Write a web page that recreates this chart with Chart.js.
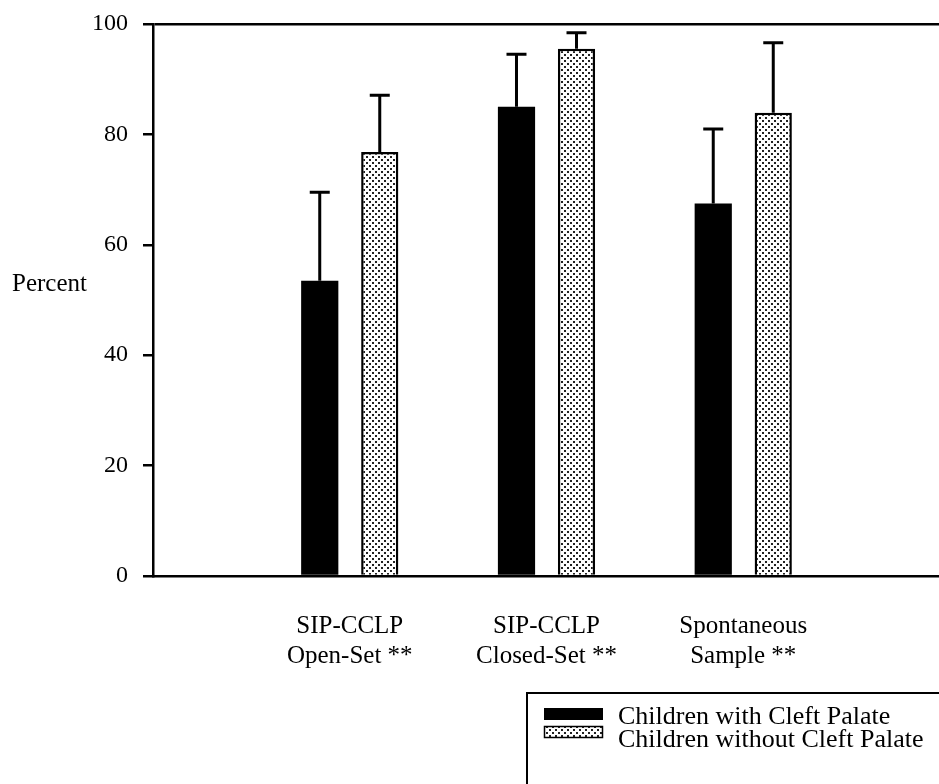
<!DOCTYPE html>
<html>
<head>
<meta charset="utf-8">
<title>Percent by group</title>
<script src="https://cdn.jsdelivr.net/npm/chart.js@4.4.0/dist/chart.umd.min.js"></script>
<style>
  html, body { margin: 0; padding: 0; background: #fff; overflow: hidden; }
  #wrap { width: 939px; height: 784px; overflow: hidden; }
</style>
</head>
<body>
<div id="wrap"><canvas id="chart" width="975" height="784"></canvas></div>
<script>
const SERIF = '"Liberation Serif", "Times New Roman", serif';

const groupLabels = [
    ['SIP-CCLP', 'Open-Set **'],
    ['SIP-CCLP', 'Closed-Set **'],
    ['Spontaneous', 'Sample **']
];
const seriesNames = ['Children with Cleft Palate', 'Children without Cleft Palate'];
const cleftMeans = [53.5, 85.0, 67.5];
const cleftSD = [16.0, 9.5, 13.5];
const noCleftMeans = [76.8, 95.5, 83.9];
const noCleftSD = [10.3, 2.9, 12.7];
const yTicks = [0, 20, 40, 60, 80, 100];

// empty slot on each side so the groups sit between the axis ends
const labels = ['', ...groupLabels, ''];
const pad = arr => [null, ...arr, null];

function makeStipple() {
    const c = document.createElement('canvas');
    c.width = 6; c.height = 6;
    const g = c.getContext('2d');
    g.fillStyle = '#fff';
    g.fillRect(0, 0, 6, 6);
    g.fillStyle = '#222';
    g.fillRect(0, 0, 2, 2);
    g.fillRect(3, 3, 2, 2);
    return g.createPattern(c, 'repeat');
}
const stipple = makeStipple();

// upward-only error bars with a cap
const errorBars = {
    id: 'errorBars',
    afterDatasetsDraw(chart) {
        const ctx = chart.ctx;
        const y = chart.scales.y;
        const sds = [pad(cleftSD), pad(noCleftSD)];
        ctx.save();
        ctx.strokeStyle = '#000';
        ctx.lineWidth = 3;
        chart.data.datasets.forEach((ds, di) => {
            chart.getDatasetMeta(di).data.forEach((bar, i) => {
                const v = ds.data[i];
                if (v == null) return;
                const top = y.getPixelForValue(v + sds[di][i]);
                ctx.beginPath();
                ctx.moveTo(bar.x, bar.y);
                ctx.lineTo(bar.x, top);
                ctx.moveTo(bar.x - 10, top);
                ctx.lineTo(bar.x + 10, top);
                ctx.stroke();
            });
        });
        ctx.restore();
    }
};

// side label and boxed legend
const extras = {
    id: 'extras',
    afterDraw(chart) {
        const ctx = chart.ctx;
        ctx.save();
        ctx.fillStyle = '#000';
        ctx.font = '25px ' + SERIF;
        ctx.textBaseline = 'middle';
        ctx.textAlign = 'left';
        ctx.fillText('Percent', 12, 284);

        ctx.strokeStyle = '#000';
        ctx.lineWidth = 2;
        ctx.beginPath();
        ctx.moveTo(527, 800);
        ctx.lineTo(527, 693);
        ctx.lineTo(980, 693);
        ctx.stroke();

        const swatchY = [714, 732];
        const textY = [717, 740];
        const fills = ['#000', stipple];
        ctx.font = '26px ' + SERIF;
        swatchY.forEach((cy, i) => {
            ctx.fillStyle = fills[i];
            ctx.fillRect(544, cy - 6, 59, 12);
            if (i === 1) {
                ctx.lineWidth = 1.5;
                ctx.strokeRect(544.5, cy - 5.5, 58, 11);
            }
            ctx.fillStyle = '#000';
            ctx.fillText(seriesNames[i], 618, textY[i]);
        });
        ctx.restore();
    }
};

new Chart(document.getElementById('chart'), {
    type: 'bar',
    data: {
        labels: labels,
        datasets: [
            {
                label: seriesNames[0],
                data: pad(cleftMeans),
                backgroundColor: '#000',
                borderWidth: 0,
                categoryPercentage: 0.61,
                barPercentage: 0.62
            },
            {
                label: seriesNames[1],
                data: pad(noCleftMeans),
                backgroundColor: stipple,
                borderColor: '#000',
                borderWidth: 2.5,
                borderSkipped: 'bottom',
                categoryPercentage: 0.61,
                barPercentage: 0.62
            }
        ]
    },
    options: {
        responsive: false,
        animation: false,
        layout: { padding: { top: 24, right: 9, left: 0, bottom: 0 } },
        plugins: {
            legend: { display: false },
            tooltip: { enabled: false }
        },
        scales: {
            x: {
                offset: false,
                afterFit(scale) { scale.height = 208; },
                grid: { display: false, drawTicks: false },
                border: { display: true, color: '#000', width: 2.5 },
                ticks: {
                    color: '#000',
                    font: { family: SERIF, size: 25, lineHeight: 1.2 },
                    padding: 35,
                    maxRotation: 0,
                    autoSkip: false
                }
            },
            y: {
                min: 0,
                max: 100,
                afterFit(scale) {
                    scale.width = 153;
                    scale.paddingTop = 0;
                    scale.paddingBottom = 0;
                },
                afterBuildTicks(scale) { scale.ticks = yTicks.map(v => ({ value: v })); },
                grid: {
                    drawOnChartArea: true,
                    color: c => (c.tick && c.tick.value === 100) ? '#000' : 'rgba(0,0,0,0)',
                    lineWidth: 2.5,
                    tickLength: 10,
                    tickColor: '#000',
                    tickWidth: 2.5
                },
                border: { display: true, color: '#000', width: 2.5 },
                ticks: {
                    color: '#000',
                    font: { family: SERIF, size: 24 },
                    padding: 15
                }
            }
        }
    },
    plugins: [errorBars, extras]
});
</script>
</body>
</html>
